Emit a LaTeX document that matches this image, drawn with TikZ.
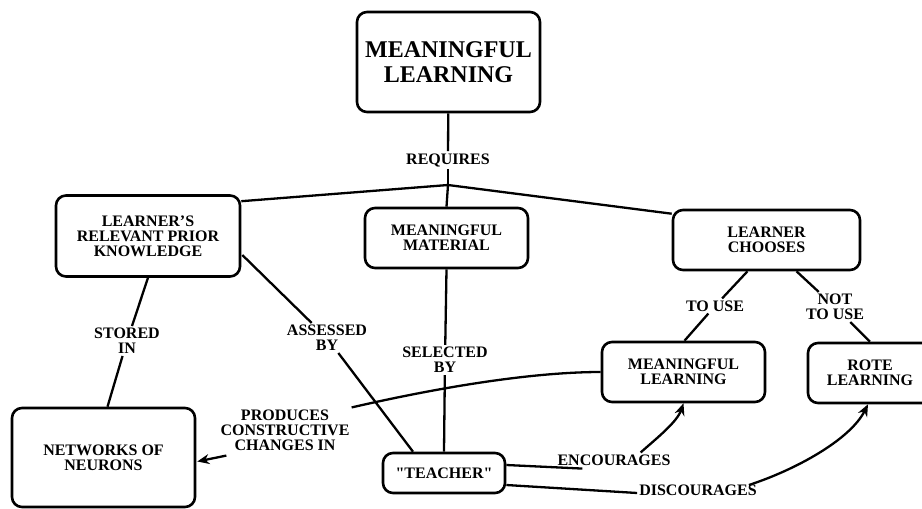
\documentclass[tikz,border=0pt]{standalone}
\usepackage{fontspec}
\setmainfont{Liberation Serif}
\newfontfamily\noligserif{Liberation Serif}
\usetikzlibrary{arrows.meta,calc}
\begin{document}
\begin{tikzpicture}[x=1pt,y=-1pt,
  box/.style={draw,line width=2.6pt,rounded corners=10pt,align=center,inner sep=0pt,
    font=\bfseries\fontsize{16}{15}\selectfont},
  lbl/.style={align=center,inner sep=2pt,font=\bfseries\fontsize{16}{15}\selectfont},
  conn/.style={line width=2.3pt},
  arr/.style={line width=2.3pt,-{Stealth[length=12pt,width=10pt]}}]
\useasboundingbox (0,0) rectangle (922,509);
\clip (0,0) rectangle (922,509);

% concept boxes
\node[box,minimum width=183pt,minimum height=100pt,font=\bfseries\fontsize{24}{25}\selectfont]
  (top) at (448.5,62) {MEANINGFUL\\LEARNING};
\node[box,minimum width=184pt,minimum height=81pt] (lk) at (148,236)
  {LEARNER'S\\RELEVANT PRIOR\\KNOWLEDGE};
\node[box,minimum width=163pt,minimum height=60pt] (mm) at (446.5,238)
  {MEANINGFUL\\MATERIAL};
\node[box,minimum width=187pt,minimum height=60pt] (lc) at (766.5,240)
  {LEARNER\\CHOOSES};
\node[box,minimum width=163pt,minimum height=60pt] (ml) at (683.5,372)
  {MEANINGFUL\\LEARNING};
\node[box,minimum width=124pt,minimum height=60pt] (rl) at (870,373)
  {ROTE\\LEARNING};
\node[box,minimum width=183pt,minimum height=99pt] (nn) at (103.5,457.5)
  {NETWORKS OF\\NEURONS};
\node[box,minimum width=122pt,minimum height=40pt] (te) at (444,473)
  {\noligserif\bfseries "TEACHER"};

% link labels
\node[lbl] (req) at (448,160) {REQUIRES};
\coordinate (J) at (448,185);
\node[lbl] (st) at (127,341) {STORED\\IN};
\node[lbl] (ab) at (327,338) {ASSESSED\\BY};
\node[lbl] (sb) at (445,360) {SELECTED\\BY};
\node[lbl] (pc) at (285,430) {PRODUCES\\CONSTRUCTIVE\\CHANGES IN};
\node[lbl] (tu) at (715,306) {TO USE};
\node[lbl] (ntu) at (835,307) {NOT\\TO USE};
\node[lbl] (enc) at (614,460) {ENCOURAGES};
\node[lbl] (dis) at (698,490) {DISCOURAGES};

% connectors
\draw[conn] (top) -- (req);
\draw[conn] (req) -- (J);
\draw[conn] (J) -- ([yshift=-7pt]lk.north east);
\draw[conn] (J) -- (mm.north);
\draw[conn] (J) -- ([yshift=-5pt]lc.north west);

\draw[conn] (lk.south) -- (st);
\draw[conn] (st) -- ([xshift=4pt]nn.north);

\draw[conn] ([xshift=1pt,yshift=-19pt]lk.east) -- (ab);
\draw[conn] (ab) -- ([xshift=-31pt]te.north);

\draw[conn] (mm.south) -- (sb);
\draw[conn] (sb) -- (te.north);

\draw[conn] (ml.west) .. controls (535,372) and (445,386) .. (pc.north east);
\draw[arr] ([xshift=8pt,yshift=-3pt]pc.south west) -- ([xshift=1pt,yshift=-4pt]nn.east);

\draw[conn] ([xshift=-19pt]lc.south) -- (tu);
\draw[conn] (tu) -- ([xshift=1pt]ml.north);
\draw[conn] ([xshift=30pt]lc.south) -- (ntu);
\draw[conn] (ntu) -- (rl.north);

\coordinate (encA) at ([xshift=27pt,yshift=-1pt]enc.south west);
\coordinate (encB) at ([xshift=-32pt]enc.north east);
\draw[conn] ([yshift=8pt]te.east) -- (encA);
\draw[arr] (encB) .. controls (657,438) and (677,422) .. (ml.south);

\coordinate (disA) at ([yshift=-3pt]dis.west);
\coordinate (disB) at ([xshift=-10pt,yshift=5pt]dis.east);
\draw[conn] ([yshift=-12pt]te.east) -- (disA);
\draw[arr] (disB) .. controls (795,470) and (850,440) .. ([xshift=-2pt]rl.south);
\end{tikzpicture}
\end{document}
